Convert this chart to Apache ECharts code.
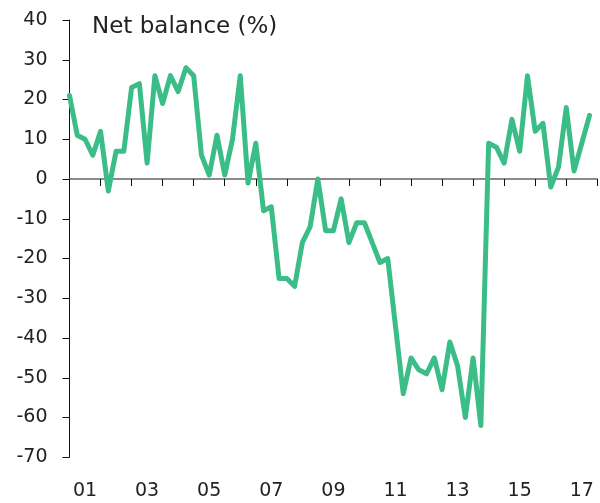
<!DOCTYPE html>
<html>
<head>
<meta charset="utf-8">
<script src="https://cdn.jsdelivr.net/npm/echarts@6/dist/echarts.min.js"></script>
<style>
  html, body { margin: 0; padding: 0; background: #fff; }
  #chart { width: 600px; height: 503px; }
</style>
</head>
<body>
<div id="chart"></div>
<script>
// quarterly net balance, 2001 Q1 .. 2017 Q4
var netBalance = [
  21, 11, 10, 6, 12, -3, 7, 7,
  23, 24, 4, 26, 19, 26, 22, 28,
  26, 6, 1, 11, 1, 10, 26, -1,
  9, -8, -7, -25, -25, -27, -16, -12,
  0, -13, -13, -5, -16, -11, -11, -16,
  -21, -20, -37, -54, -45, -48, -49, -45,
  -53, -41, -47, -60, -45, -62, 9, 8,
  4, 15, 7, 26, 12, 14, -2, 3,
  18, 2, 9, 16
];
var yearLabels = ["01", "02", "03", "04", "05", "06", "07", "08", "09",
  "10", "11", "12", "13", "14", "15", "16", "17"];
var yMin = -70, yMax = 40, yStep = 10;
var titleText = "Net balance (%)";

var points = [];
for (var i = 0; i < netBalance.length; i++) {
  points.push([i, netBalance[i]]);
}

var font = "DejaVu Sans";
var myChart = echarts.init(document.getElementById("chart"));
myChart.setOption({
  animation: false,
  title: {
    text: titleText,
    left: 92,
    top: 16,
    padding: 0,
    textStyle: { fontFamily: font, fontSize: 23, fontWeight: "normal", color: "#222" },
  },
  grid: { left: 69.5, right: 2.7, top: 20, bottom: 45.7, containLabel: false },
  xAxis: [
    {
      type: "value",
      min: 0,
      max: yearLabels.length * 4,
      interval: 4,
      axisLine: { onZero: true, lineStyle: { color: "#666", width: 1.5 } },
      axisTick: { show: true, length: 7, lineStyle: { color: "#111", width: 1 } },
      axisLabel: { show: false },
      splitLine: { show: false },
    },
    {
      type: "category",
      position: "bottom",
      data: yearLabels,
      boundaryGap: true,
      axisLine: { show: false },
      axisTick: { show: false },
      axisLabel: {
        interval: 1,
        margin: 24,
        fontFamily: font,
        fontSize: 19,
        color: "#222",
      },
      splitLine: { show: false },
    },
  ],
  yAxis: {
    type: "value",
    min: yMin,
    max: yMax,
    interval: yStep,
    axisLine: { show: true, onZero: false, lineStyle: { color: "#111", width: 1 } },
    axisTick: { show: true, length: 7, lineStyle: { color: "#111", width: 1 } },
    axisLabel: { margin: 22, fontFamily: font, fontSize: 19, color: "#222" },
    splitLine: { show: false },
  },
  series: [
    {
      type: "line",
      xAxisIndex: 0,
      data: points,
      showSymbol: false,
      lineStyle: { color: "#3bbd87", width: 5, join: "round", cap: "round" },
      z: 3,
    },
  ],
});
</script>
</body>
</html>
